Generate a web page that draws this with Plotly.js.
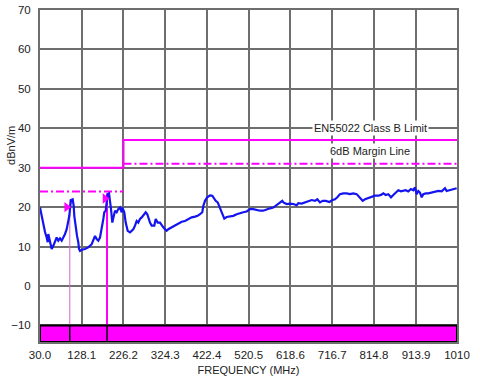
<!DOCTYPE html>
<html><head><meta charset="utf-8">
<script src="https://cdn.plot.ly/plotly-3.0.1.min.js"></script>
<style>html,body{margin:0;padding:0;background:#fff}#chart{width:480px;height:383px}</style>
</head><body><div id="chart"></div>
<script>
// Measured emission (MHz, dBµV/m)
const freqMHz = [30,34,37.8,41.8,45.7,48.1,49.5,53.5,57.5,61.3,65.3,69.2,73,77,81,84.8,88.8,92.7,96.5,98.9,101.2,102.9,106.8,109.2,110.6,113.9,117,120,121.7,124,128,135.8,143.5,151.5,155.3,159.3,163.2,167,171,175,178.8,181.1,184.4,186.7,189.1,192.2,194.5,196.9,199.9,203.2,206.3,210.2,214,218,222,223.4,228.1,231.4,236.1,241.5,249.3,253.3,257.2,261,265,269,275.1,278.4,282.2,284.5,288.5,292.5,298.6,301.9,306.6,312,316,319.8,323.8,327.7,331.5,339.5,347.3,355,363,370.8,378.5,386.5,394.3,400.6,406,411.4,413.8,417.8,423,429.5,434.9,439.6,442.9,447.6,450.7,455.4,460.8,463.1,468.7,476.5,484.3,492.2,500,507.8,515.7,523.5,531.3,539.2,547,554.8,562.7,570.5,578.3,586.2,594,599.4,602,609.7,617.5,625.3,633.2,637,645,652.8,660.5,668.5,676.3,681.7,688,694.3,702.1,709.9,717.8,723.3,728.7,735,742.8,750.7,758.5,766.3,774.2,782,788.3,793.8,801.5,809.5,817.3,825,831.4,836.8,842.4,848.5,854.9,860.3,865.9,872,878.4,883.8,889.4,895.5,901.9,907.3,911.3,915.2,919,923,927,930.8,936.4,942.5,950.5,958.3,966,974,981.8,985.7,993.5,1001.3,1009.2];
const emission = [19.9,17.8,15.3,13.7,12.3,11.1,13.2,11.5,9.4,10.2,11.5,12.3,11.5,12.1,11.5,12.3,13.2,14.4,16.1,17.8,20.3,21.8,22,20.3,17.8,14.4,12.7,11.1,9.4,8.9,9.2,9.4,9.8,10.6,11.5,12.7,11.9,11.5,12.3,14.4,17,18.7,19.1,21.2,23.3,23.5,22,19.5,16.1,17.8,19.1,18.7,19.5,19.9,18.7,19.9,18.7,16.1,14,13.6,14.4,15.3,16.5,16.1,17,17.4,18.2,18.7,18.2,17.4,16.1,15.3,15.3,17,16.1,16.1,15.3,14.9,14.4,14,14.4,14.9,15.3,15.7,16.3,16.5,17,17.4,17.6,17.8,18.2,18.7,20.3,21.6,22.5,23,22.9,22,21.6,21.2,20.3,19.1,17.8,17.1,17.5,17.6,17.8,18.2,18.5,18.7,18.9,19.5,19.5,19.3,19.1,19.1,19.5,19.7,19.9,20.5,21,21.6,21.2,20.8,20.9,20.8,20.5,21,20.9,21.2,21.3,21.8,21.6,22,21.2,21.6,21.6,21.3,21.8,22,22.5,23.3,23.5,23.5,23.3,23.5,23.3,22.5,21.6,22,22.3,22.6,22.9,22.9,23.1,23.5,23.1,23.3,22.5,23.1,23.7,24.3,24,24.1,24.3,24,24.6,24.3,25,23.3,24.1,23.7,22.5,23.3,23.5,23.5,23.7,24,24.1,24,24.8,24.1,24.3,24.6,24.8];

// EN55022 Class B limit and 6 dB margin
const limitFreq = [30, 226.2, 226.2, 1010];
const limitLevel = [30, 30, 37, 37];
const marginFreq = [30, 226.2, null, 226.2, 1010];
const marginLevel = [24, 24, null, 31, 31];

// Peak markers and cursors
const peakFreq = [92.7, 182.8];
const peakLevel = [20, 22.2];
const cursor1Freq = [100, 100];
const cursor1Level = [22, -10];
const cursor2Freq = [187.5, 187.5];
const cursor2Level = [23.5, -10];

// Bottom band
const bandFreq = [30, 1010, 1010, 30, 30];
const bandLevel = [-10, -10, -14.2, -14.2, -10];
const dividerFreq = [100, 100, null, 187.5, 187.5];
const dividerLevel = [-10, -14.2, null, -10, -14.2];

// Axis ticks
const xTickVals = [30.0, 128.1, 226.2, 324.3, 422.4, 520.5, 618.6, 716.7, 814.8, 913.9, 1010];
const xTickText = ['30.0','128.1','226.2','324.3','422.4','520.5','618.6','716.7','814.8','913.9','1010'];
const yTickVals = [-10, 0, 10, 20, 30, 40, 50, 60, 70];
const yTickText = ['\u221210','0','10','20','30','40','50','60','70'];

const FONT = '"Liberation Sans Narrow", "Liberation Sans", Arial, sans-serif';
const MAG = '#ff00ff';
const TXT = '#222';

const traces = [
  {x: limitFreq, y: limitLevel, mode: 'lines', line: {color: MAG, width: 2}, hoverinfo: 'skip'},
  {x: marginFreq, y: marginLevel, mode: 'lines', line: {color: MAG, width: 2, dash: '8px,3px,2px,3px'}, connectgaps: false, hoverinfo: 'skip'},
  {x: cursor1Freq, y: cursor1Level, mode: 'lines', line: {color: '#d266d2', width: 1}, hoverinfo: 'skip'},
  {x: cursor2Freq, y: cursor2Level, mode: 'lines', line: {color: MAG, width: 2}, hoverinfo: 'skip'},
  {x: freqMHz, y: emission, mode: 'lines', line: {color: '#1414f0', width: 2.2}},
  {x: peakFreq, y: peakLevel, mode: 'markers', marker: {symbol: 'triangle-right', size: 9, color: MAG}, hoverinfo: 'skip'},
  {x: bandFreq, y: bandLevel, mode: 'lines', fill: 'toself', fillcolor: MAG, line: {color: '#000', width: 2}, hoverinfo: 'skip'},
  {x: dividerFreq, y: dividerLevel, mode: 'lines', line: {color: '#000', width: 1.5}, hoverinfo: 'skip'}
];

const layout = {
  width: 480, height: 383,
  margin: {l: 40, r: 23, t: 10, b: 41},
  paper_bgcolor: '#fff', plot_bgcolor: '#fff',
  showlegend: false,
  font: {family: FONT, size: 11.5, color: TXT},
  xaxis: {
    range: [30, 1010], tickmode: 'array', tickvals: xTickVals, ticktext: xTickText,
    showgrid: true, gridcolor: '#6e6e6e', gridwidth: 2, zeroline: false,
    showline: true, mirror: true, linecolor: '#6e6e6e', linewidth: 2,
    ticks: '', ticklabelstandoff: 1, layer: 'below traces',
    tickfont: {family: FONT, size: 11.5, color: TXT},
    title: {text: 'FREQUENCY (MHz)', font: {family: FONT, size: 11, color: TXT}, standoff: 7}
  },
  yaxis: {
    range: [-14.2, 70], tickmode: 'array', tickvals: yTickVals, ticktext: yTickText,
    showgrid: true, gridcolor: '#6e6e6e', gridwidth: 2, zeroline: false,
    showline: true, mirror: true, linecolor: '#6e6e6e', linewidth: 2,
    ticks: '', ticklabelstandoff: 5, layer: 'below traces',
    tickfont: {family: FONT, size: 11.5, color: TXT}
  },
  annotations: [
    {text: 'EN55022 Class B Limit', x: 806, y: 40, xref: 'x', yref: 'y', showarrow: false,
     bgcolor: '#fff', borderpad: 1, font: {family: FONT, size: 11, color: TXT}},
    {text: '6dB Margin Line', x: 806, y: 34.3, xref: 'x', yref: 'y', showarrow: false,
     bgcolor: '#fff', borderpad: 1, font: {family: FONT, size: 11, color: TXT}},
    {text: 'dBnV/m', x: -0.07, y: 0.593, xref: 'paper', yref: 'paper', showarrow: false,
     textangle: -90, xanchor: 'center', yanchor: 'middle', font: {family: FONT, size: 11, color: TXT}}
  ]
};

Plotly.newPlot('chart', traces, layout, {staticPlot: true, displayModeBar: false});
</script></body></html>
